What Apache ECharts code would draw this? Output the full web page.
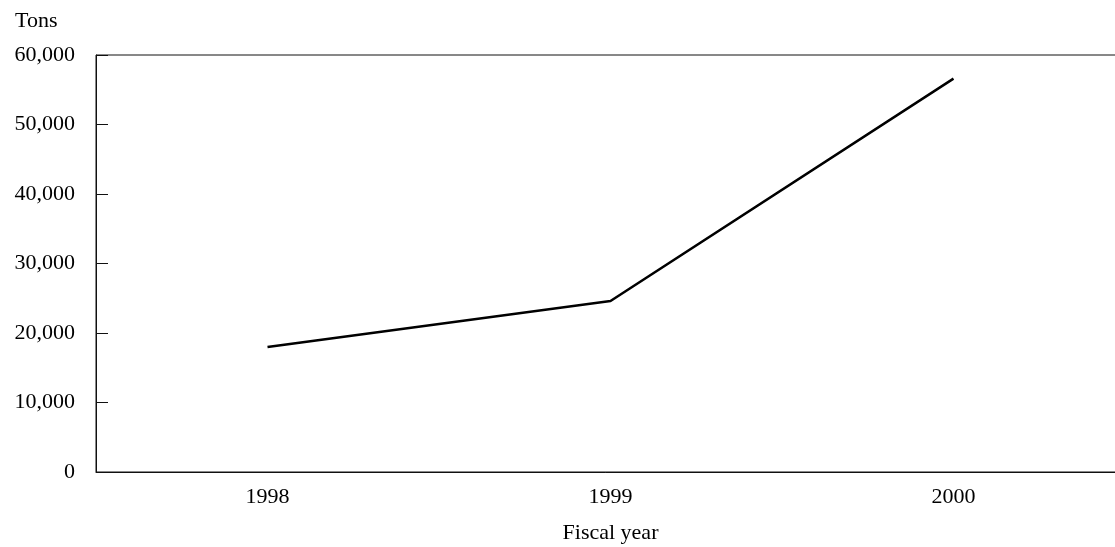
<!DOCTYPE html>
<html>
<head>
<meta charset="utf-8">
<script src="https://cdn.jsdelivr.net/npm/echarts@6/dist/echarts.min.js"></script>
<style>html,body{margin:0;padding:0;background:#fff}#c{width:1115px;height:547px}</style>
</head>
<body>
<div id="c"></div>
<script>
const years = ['1998', '1999', '2000'];
const tons = [18000, 24600, 56600];
const yTicks = { min: 0, max: 60000, interval: 10000 };

const FONT = 'Liberation Serif';
const chart = echarts.init(document.getElementById('c'), null, { renderer: 'canvas' });
chart.setOption({
  animation: false,
  backgroundColor: '#fff',
  title: {
    text: 'Tons', left: 10, top: 5,
    textStyle: { fontFamily: FONT, fontSize: 22, fontWeight: 'normal', color: '#000' }
  },
  grid: {
    left: 96, top: 55, width: 1029, height: 417,
    outerBoundsMode: 'none', containLabel: false,
    show: true, borderColor: '#111', borderWidth: 1, backgroundColor: 'transparent'
  },
  xAxis: {
    type: 'category', data: years, boundaryGap: true,
    name: 'Fiscal year', nameLocation: 'middle', nameGap: 50,
    nameTextStyle: { fontFamily: FONT, fontSize: 22, color: '#000' },
    axisLine: { lineStyle: { color: '#111', width: 1 } },
    axisTick: { inside: true, length: 5, alignWithLabel: true, lineStyle: { color: '#111' } },
    axisLabel: { fontFamily: FONT, fontSize: 22, color: '#000', margin: 14 },
    splitLine: { show: false }
  },
  yAxis: {
    type: 'value', min: yTicks.min, max: yTicks.max, interval: yTicks.interval,
    axisLine: { show: true, lineStyle: { color: '#111', width: 1 } },
    axisTick: { show: true, inside: true, length: 12, lineStyle: { color: '#111' } },
    axisLabel: {
      fontFamily: FONT, fontSize: 22, color: '#000', margin: 21,
      formatter: v => v.toLocaleString('en-US')
    },
    splitLine: { show: false }
  },
  series: [{
    type: 'line', data: tons, symbol: 'none',
    lineStyle: { color: '#000', width: 2.5 }
  }]
});
</script>
</body>
</html>
